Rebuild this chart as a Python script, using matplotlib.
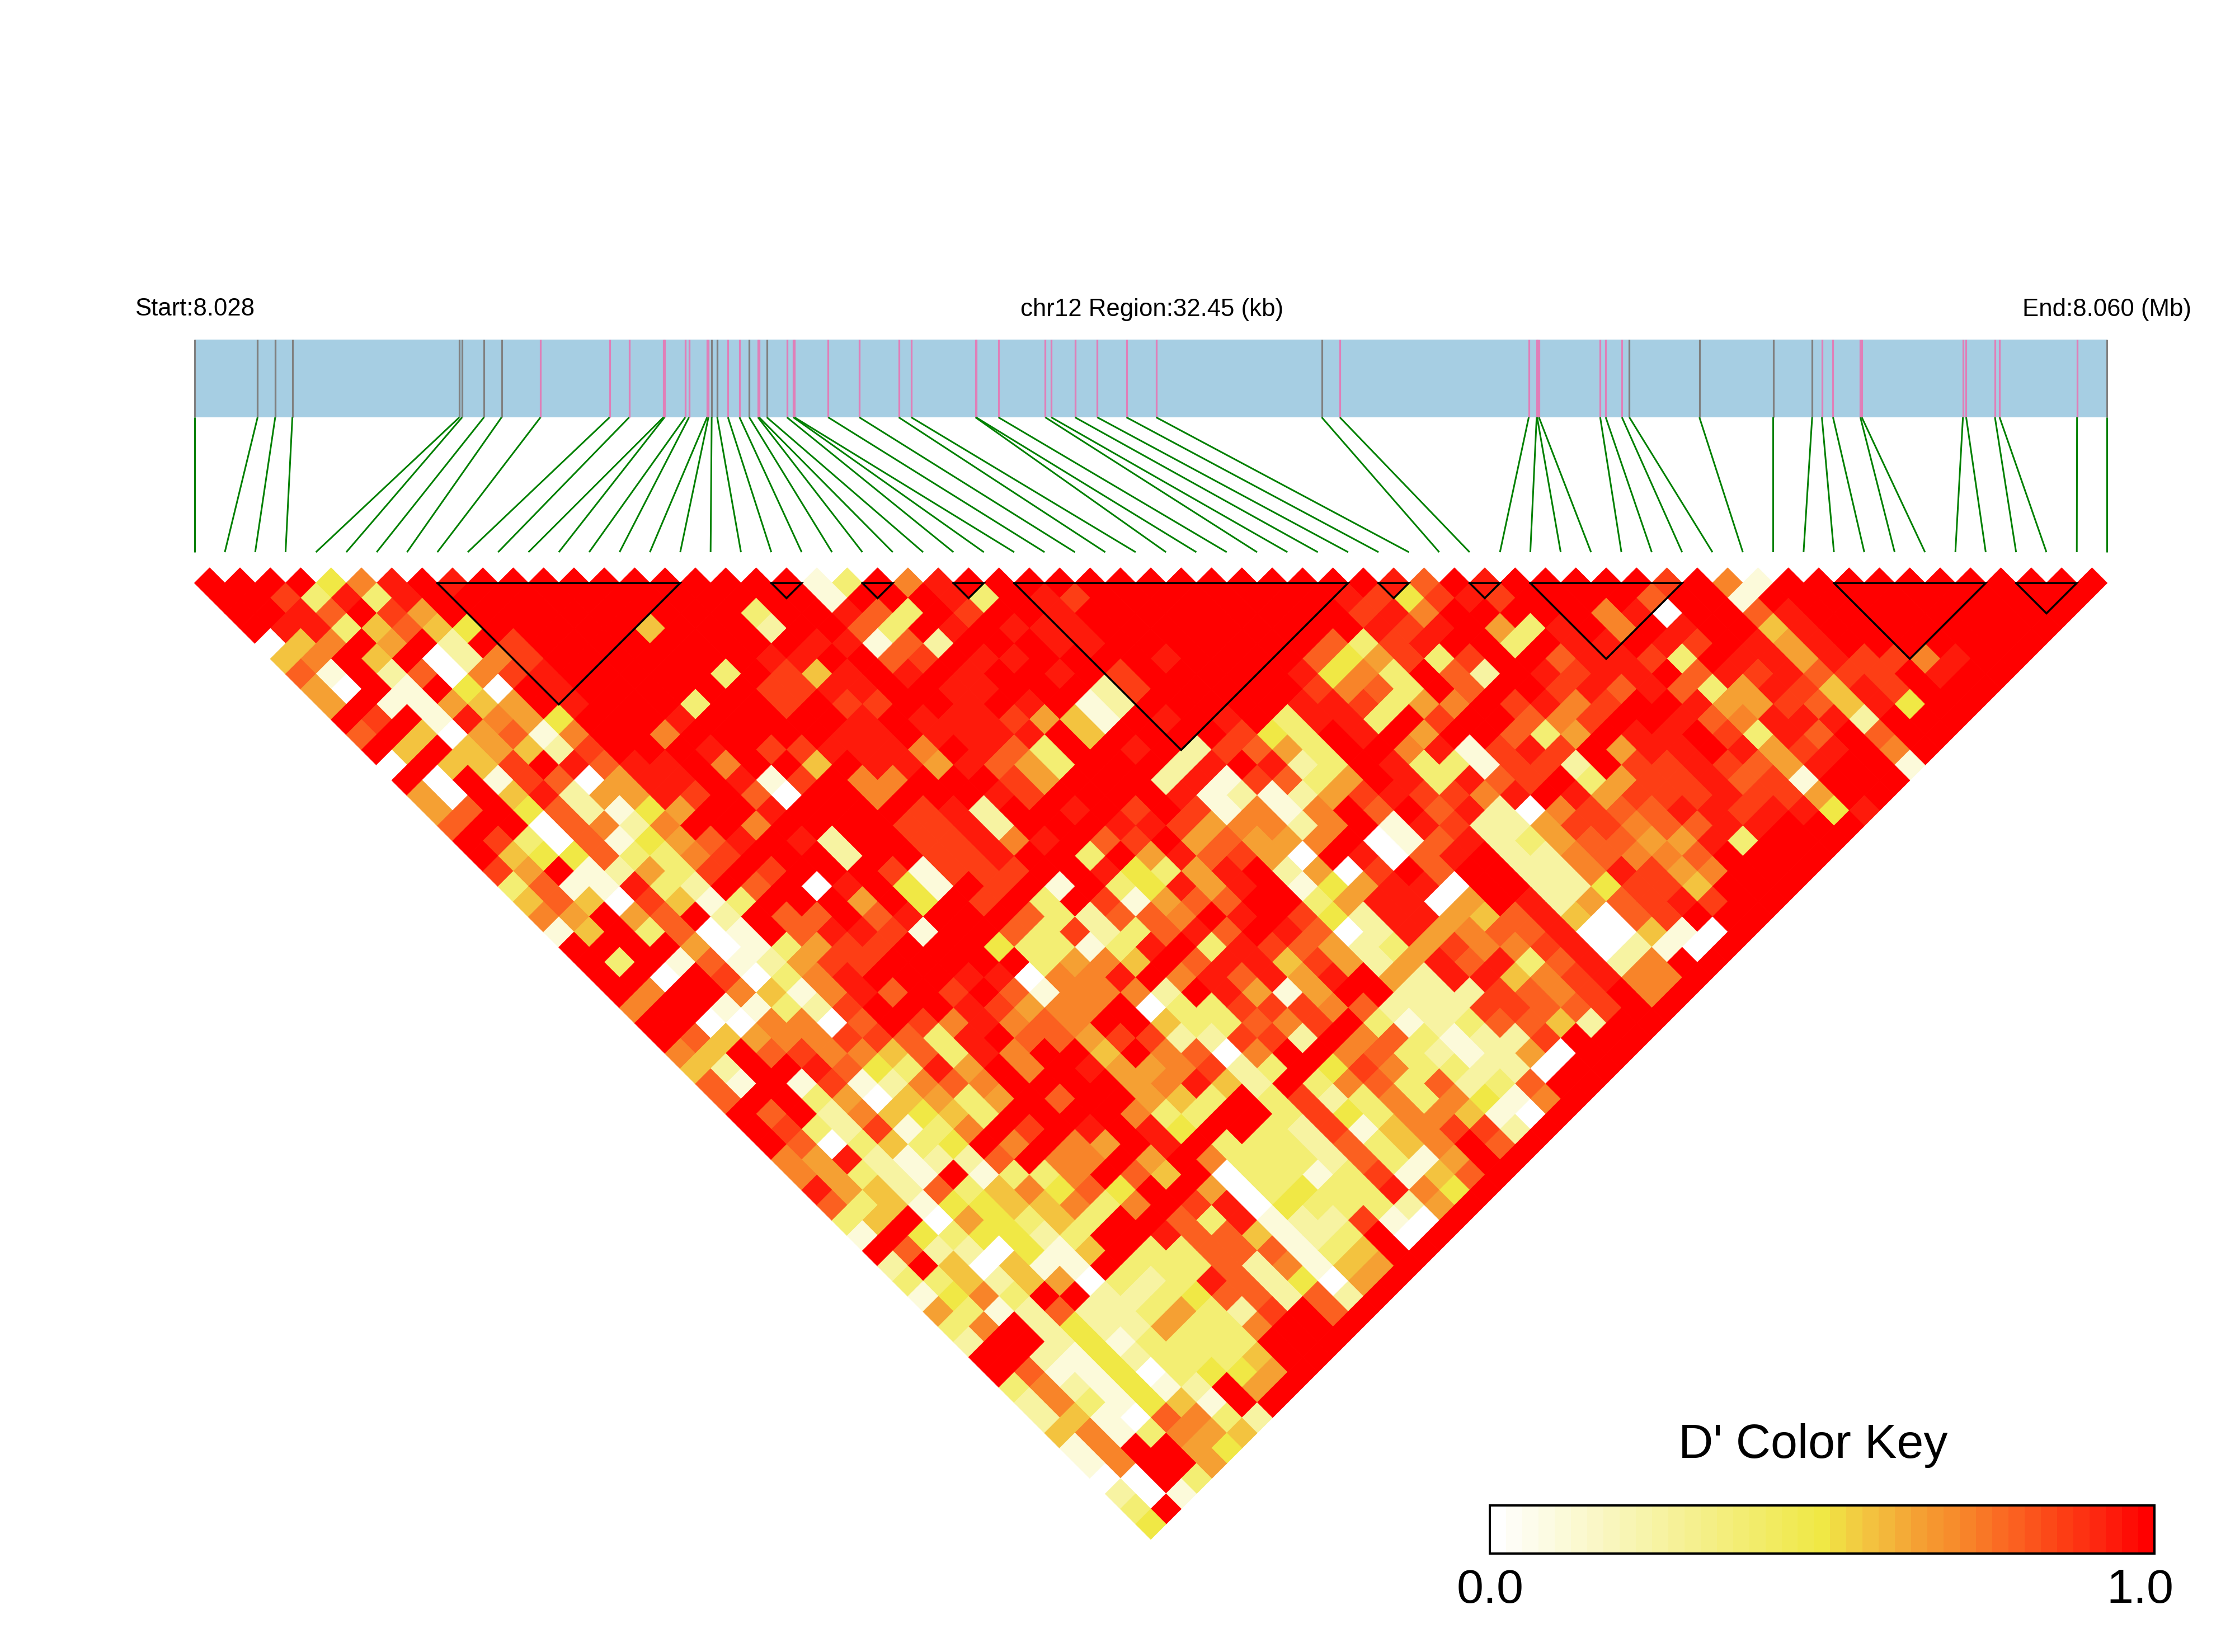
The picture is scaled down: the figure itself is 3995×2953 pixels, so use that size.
import numpy as np
import matplotlib
matplotlib.use('Agg')
import matplotlib.pyplot as plt
from matplotlib.collections import PolyCollection
from matplotlib.colors import LinearSegmentedColormap
from matplotlib.patches import Rectangle

plt.rcParams['font.family'] = ['Liberation Sans', 'DejaVu Sans']

# snp positions along the region, kb from start
snp_kb = [0, 1.071, 1.370, 1.661, 4.494, 4.541, 4.911, 5.210, 5.871, 7.043,
          7.375, 7.955, 7.975, 8.327, 8.390, 8.697, 8.720, 8.775, 8.869, 9.051,
          9.247, 9.413, 9.560, 9.580, 9.711, 10.052, 10.160, 10.180, 10.752, 11.280,
          11.949, 12.161, 13.250, 13.260, 13.640, 14.435, 14.537, 14.939, 15.317, 15.812,
          16.316, 19.125, 19.432, 22.637, 22.771, 22.779, 22.810, 23.849, 23.943, 24.218,
          24.344, 25.532, 26.784, 27.445, 27.610, 27.799, 28.263, 28.287, 30.003, 30.058,
          30.546, 30.625, 31.939, 32.45]
# snps drawn grey in the gene strip, the others pink
grey_snps = [0, 1, 2, 3, 4, 5, 6, 7, 17, 18, 21, 24, 41, 50, 51, 52, 53, 63]
# haplotype blocks, first and last snp
blocks = [(8, 16), (19, 20), (22, 23), (25, 26), (27, 38), (39, 40), (42, 43),
          (44, 49), (54, 59), (60, 62)]

level_values = {'0': 0.0, '1': 0.12, '2': 0.25, '3': 0.38, '4': 0.49, '5': 0.57,
                '6': 0.65, '7': 0.72, '8': 0.80, '9': 0.87, 'a': 0.93, 'b': 1.0}
dprime_rows = [
    "bbbb47abab bbbbbbbbbb 13b7abbbbb bbbbbbbbba 8babbbbb9b 71bbbbbbbb bbb",
    "bb93a3abbb bbbbbbbbbb 1bbba3ba9b bbbbbbba94 9a9bbbb8bb 1bbbbbbbbb bb",
    "bba8b96bbb bbbbbbb3bb a83b9bbabb bbbbbbb9a7 bbbbb7a0bb 8abbbbbbbb b",
    "baa35854bb bbb5bbb2bb 83babaaabb bbbbbbba9a b63ab7babb 5abbbbbbbb",
    "057b6b2b9b bbbbbbbbaa 182bbbaabb bbbbb839ab b3baaba9ba 6abbbbbbb",
    "57b5b0279b bbbbbbaabb 89baabbbba bbbb846939 bb8aa93baa 6a997abb",
    "81b28079ab bbbb3b95ab ababbab9bb bbba473b82 ba9aab8a9a 899babb",
    "60b1b40bab bbbbb99aab baabbb29bb bbb9783b8b b9a8a836a9 5a9bbb",
    "6b11656bab bb3bb9b99b babab12bbb bbaa9367b9 a79bba6698 5a4bb",
    "b9b1a764bb babbbbbaba aa9651baba b3aa3b9bb8 79bba87aaa 2bbb",
    "8b506817bb 7bbbbbaaba aaab5bbbb9 43bab6bb83 6baab93a8b 8bb",
    "b5b56529bb bab99aaa7b a83bbab298 63bb7a19a9 b6aaba69ab 7b",
    "0b559ba8aa b7bb5baa6a 863bbb2aba 23ba331992 b99a986abb 1",
    "b0b19806aa ba19b77bbb 96bbb2a198 36ba3a89b3 699a891bbb",
    "60b5a266a9 b80bb7bbba 9bbbba1212 69a997aba6 999a996bb",
    "68b482146b babbbb9a2b bab9b91717 b8b8a20798 8aa9aa4a",
    "8bb08727bb 7bbbb99a2b bbaa967727 b1a9226997 88aabbb",
    "b93081468a ba2bb99a7a b89b68667b 018a236886 6a3bbb",
    "b54483379b bb2bb99abb 3b6a8960ba 08ab227877 8bbbb",
    "96b12639b9 bbb91999bb a436ab2609 b8bb227a96 7bbb",
    "3811a32b8b 0ab41b9b1b 34a6ab146a a0bb224995 bbb",
    "58509513bb b6b4b9b3b9 1688bb36aa 06ba2689a9 bb",
    "76b68b2b88 b8abbb8328 87bab942aa 658a5089bb b",
    "15b3801b8a a91bb83923 8a8ba802a6 788a00510b",
    "bbbb601369 9bbb43313a b3a9862369 779a0210b",
    "b3b1812699 bbbbb3675b 8aa59626a8 a38a27bb",
    "bb0b9037ab bbaa077ab7 a8a6ab62aa 579a77b",
    "b7bb7517a8 b9b817772b a616bb2229 879b7b",
    "7bb11329bb ba9677b033 9997822299 889bb",
    "bb007708b9 7a787bb533 879b312388 52bb",
    "b856779983 ab88699229 92b7831229 bbb",
    "75b8977583 a7bb5b7807 bb78321260 bb",
    "52bba843a6 b7ba667923 b49733220b b",
    "81b1912787 bbbb67a52b 37838238bb",
    "8bb3605636 b8bb653b39 23737417b",
    "b8b275453b bbb733bb39 4377510b",
    "b9329137b9 baba4bb329 157992b",
    "b803534b7b 76bab33328 357b8b",
    "76a21228b7 7b6b733328 316bb",
    "76321b1337 b85b033139 158b",
    "a652835748 4bb603433a 74b",
    "8351445573 7b9a043332 6b",
    "35b064353b b83a122910 b",
    "1b434423bb a885123b0b",
    "b8220415b3 3888135bb",
    "2b50511b33 3827156b",
    "3352560323 a82406b",
    "1473bb2234 88282b",
    "6312822363 29b8b",
    "37b2422633 7bbb",
    "2bb2413333 bbb",
    "bb21423335 bb",
    "b811403446b",
    "3721412b6b",
    "2731451bb",
    "25108732",
    "5713765",
    "17bb64",
    "17bb6",
    "00b3",
    "201",
    "3b",
    "4",
]

title_left = 'Start:8.028'
title_mid = 'chr12 Region:32.45 (kb)'
title_right = 'End:8.060 (Mb)'
key_title = "D' Color Key"
key_low = '0.0'
key_high = '1.0'

# colour ramp of the key, it comes in 41 flat steps
ramp = [(0.0, '#ffffff'), (0.25, '#f7f3a2'), (0.5, '#f0e845'), (0.57, '#f3c540'),
        (0.65, '#f5a033'), (0.72, '#f8862a'), (0.80, '#fb6020'), (0.87, '#fd4015'),
        (0.93, '#fe2510'), (1.0, '#ff0000')]
cmap = LinearSegmentedColormap.from_list('dprime', ramp, N=41)

W, H = 3995, 2953
fig = plt.figure(figsize=(W/300, H/300), dpi=300)
ax = fig.add_axes([0, 0, 1, 1])
ax.set_xlim(0, W)
ax.set_ylim(H, 0)
ax.axis('off')

px = 72/300  # one pixel in points
x0, x1 = 347.6, 3766.5
n_snp = len(snp_kb)
step = (x1-x0)/(n_snp-1)
half = step/2
top = 1015.0

# gene strip
ax.add_patch(Rectangle((x0, 607), x1-x0, 139, facecolor='#a6cee3', edgecolor='none'))
for i, kb in enumerate(snp_kb):
    xs = x0 + kb/snp_kb[-1]*(x1-x0)
    col = 'grey' if i in grey_snps else '#e07fb8'
    ax.plot([xs, xs], [607, 746], color=col, lw=3.2*px, solid_capstyle='butt')
    ax.plot([xs, x0+i*step], [746, 987], color='green', lw=3*px, solid_capstyle='butt')

# LD triangle
polys, vals = [], []
for d, row in enumerate(dprime_rows, start=1):
    row = row.replace(' ', '')
    assert len(row) == n_snp-d, (d, len(row))
    for i, c in enumerate(row):
        cx = x0 + (i+d/2)*step
        cy = top + d*half
        polys.append([(cx-half, cy), (cx, cy-half), (cx+half, cy), (cx, cy+half)])
        vals.append(level_values[c])
coll = PolyCollection(polys, array=np.array(vals), cmap=cmap, clim=(0, 1),
                      edgecolors='face', linewidths=0.25)
ax.add_collection(coll)

# blocks
y_block = top + half
for a, b in blocks:
    xa, xb = x0+a*step, x0+b*step
    ax.plot([xa, xb, (xa+xb)/2, xa], [y_block, y_block, y_block+(b-a)*half, y_block],
            color='black', lw=3.5*px, solid_joinstyle='miter')

# headers
for x, s in [(x0, title_left), (2059, title_mid), (x1, title_right)]:
    ax.text(x, 553, s, ha='center', va='center', fontsize=10.5)

# colour key
kx0, kx1, ky0, ky1 = 2663, 3851, 2691, 2777
grad = np.linspace(0, 1, 41).reshape(1, -1)
ax.imshow(grad, cmap=cmap, vmin=0, vmax=1, extent=(kx0, kx1, ky1, ky0), aspect='auto',
          interpolation='nearest', zorder=2)
ax.add_patch(Rectangle((kx0, ky0), kx1-kx0, ky1-ky0, fill=False, edgecolor='black',
                       lw=4*px, zorder=3))
ax.set_xlim(0, W)
ax.set_ylim(H, 0)
ax.text(3241, 2584, key_title, ha='center', va='center', fontsize=20.7)
ax.text(2664, 2843, key_low, ha='center', va='center', fontsize=20.7)
ax.text(3825, 2843, key_high, ha='center', va='center', fontsize=20.7)

fig.savefig('out.png', dpi=300, facecolor='white')
